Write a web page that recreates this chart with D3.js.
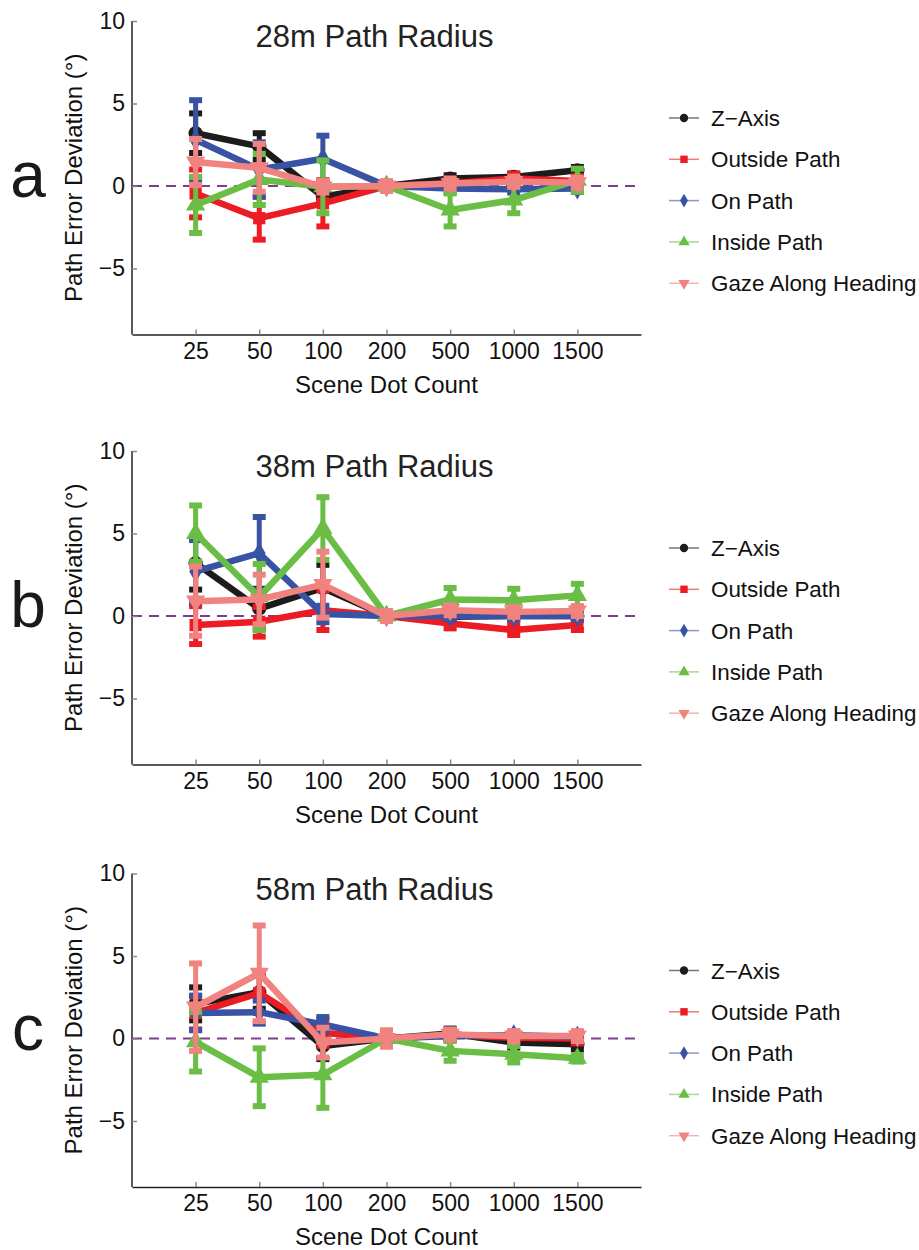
<!DOCTYPE html>
<html>
<head>
<meta charset="utf-8">
<script src="https://cdn.jsdelivr.net/npm/d3@7"></script>
<style>
  body { margin: 0; background: #fff; }
  svg { font-family: "Liberation Sans", Arial, Helvetica, sans-serif; }
</style>
</head>
<body>
<div id="chart"></div>
<script>
// ─── data ───────────────────────────────────────────────────────────
const dotCounts   = ['25', '50', '100', '200', '500', '1000', '1500'];
const seriesNames = ['Z\u2212Axis', 'Outside Path', 'On Path', 'Inside Path', 'Gaze Along Heading'];
const panelTitles = ['28m Path Radius', '38m Path Radius', '58m Path Radius'];
const panelLetters = ['a', 'b', 'c'];
const yTickValues = [10, 5, 0, -5];

// series rows in the order of seriesNames
const mean28 = [
  [3.2, 2.4, -0.65, 0, 0.45, 0.55, 0.95],
  [-0.45, -1.95, -1.05, 0, 0.15, 0.45, 0.3],
  [2.8, 1.0, 1.65, 0, -0.15, -0.2, -0.15],
  [-1.15, 0.4, -0.05, 0, -1.45, -0.85, 0.35],
  [1.45, 1.1, -0.05, 0, 0.15, 0.27, 0.2]
];
const err28 = [
  [1.2, 0.8, 0.3, 0.2, 0.2, 0.2, 0.2],
  [1.45, 1.3, 1.4, 0.2, 0.3, 0.3, 0.3],
  [2.4, 1.65, 1.4, 0.2, 0.2, 0.2, 0.2],
  [1.7, 1.55, 1.6, 0.2, 1.0, 0.8, 0.7],
  [1.4, 1.45, 0.35, 0.3, 0.3, 0.3, 0.3]
];

const mean38 = [
  [3.2, 0.45, 1.7, 0, -0.05, 0, 0],
  [-0.55, -0.35, 0.35, 0, -0.45, -0.85, -0.55],
  [2.7, 3.8, 0.12, 0, 0, 0, 0],
  [5.0, 1.15, 5.3, 0, 1.0, 0.95, 1.25],
  [0.9, 1.0, 1.9, 0, 0.35, 0.25, 0.3]
];
const err38 = [
  [1.6, 1.2, 1.4, 0.2, 0.2, 0.2, 0.2],
  [1.15, 0.9, 1.2, 0.2, 0.3, 0.3, 0.3],
  [1.9, 2.2, 0.5, 0.2, 0.2, 0.2, 0.2],
  [1.7, 2.0, 1.9, 0.2, 0.7, 0.7, 0.7],
  [2.1, 1.5, 2.0, 0.3, 0.3, 0.3, 0.3]
];

const mean58 = [
  [2.1, 2.8, -0.45, 0, 0.3, -0.25, -0.35],
  [1.55, 2.75, 0.35, 0, 0.2, 0.05, 0],
  [1.55, 1.6, 0.85, 0, 0.15, 0.2, 0.1],
  [-0.2, -2.35, -2.2, 0, -0.75, -0.95, -1.2],
  [1.9, 3.95, -0.25, 0, 0.25, 0.15, 0.15]
];
const err58 = [
  [1.0, 1.0, 0.8, 0.3, 0.3, 0.3, 0.3],
  [1.0, 1.2, 0.8, 0.3, 0.3, 0.3, 0.3],
  [1.05, 0.7, 0.45, 0.2, 0.2, 0.2, 0.2],
  [1.8, 1.75, 2.0, 0.3, 0.6, 0.5, 0.2],
  [2.65, 2.9, 0.9, 0.5, 0.3, 0.3, 0.3]
];

const panelMeans = [mean28, mean38, mean58];
const panelErrs  = [err28, err38, err58];

// ─── style ──────────────────────────────────────────────────────────
const colors  = ['#1c1c1c', '#ec1c24', '#3953a4', '#6abd45', '#f0827f'];
const symbols = [d3.symbolCircle, d3.symbolSquare, d3.symbolDiamond, d3.symbolTriangle, d3.symbolTriangle];
const symRot  = [0, 0, 0, 0, 180];
const symSize = [160, 150, 140, 160, 160];

const W = 919, H = 1250;
const left = 132, right = 641;
const plotTops = [21, 451, 873.5];
const plotH = 313.5;

const svg = d3.select('#chart').append('svg')
  .attr('width', W).attr('height', H)
  .attr('viewBox', [0, 0, W, H]);

const x = d3.scalePoint().domain(dotCounts).range([left, right]).padding(1);

plotTops.forEach((top, p) => {
  const g = svg.append('g');
  const y = d3.scaleLinear().domain([-9, 10]).range([top + plotH, top]);
  const means = panelMeans[p], errs = panelErrs[p];

  /* zero reference line */
  g.append('line')
    .attr('x1', left).attr('x2', right)
    .attr('y1', y(0)).attr('y2', y(0))
    .attr('stroke', '#7d3c8e').attr('stroke-width', 2.2)
    .attr('stroke-dasharray', '10,7');

  /* series */
  means.forEach((vals, s) => {
    const pts = vals.map((v, i) => ({ k: dotCounts[i], v, e: errs[s][i] }));
    const sg = g.append('g');

    sg.append('path')
      .datum(pts)
      .attr('fill', 'none')
      .attr('stroke', colors[s])
      .attr('stroke-width', 6.5)
      .attr('stroke-linejoin', 'round')
      .attr('d', d3.line().x(d => x(d.k)).y(d => y(d.v)));

    const eb = sg.selectAll('g.err').data(pts).join('g').attr('class', 'err')
      .attr('stroke', colors[s]);
    eb.append('line')
      .attr('stroke-width', 5)
      .attr('x1', d => x(d.k)).attr('x2', d => x(d.k))
      .attr('y1', d => y(d.v - d.e)).attr('y2', d => y(d.v + d.e));
    eb.append('line')
      .attr('stroke-width', 6)
      .attr('x1', d => x(d.k) - 6.5).attr('x2', d => x(d.k) + 6.5)
      .attr('y1', d => y(d.v + d.e)).attr('y2', d => y(d.v + d.e));
    eb.append('line')
      .attr('stroke-width', 6)
      .attr('x1', d => x(d.k) - 6.5).attr('x2', d => x(d.k) + 6.5)
      .attr('y1', d => y(d.v - d.e)).attr('y2', d => y(d.v - d.e));

    sg.selectAll('path.mk').data(pts).join('path').attr('class', 'mk')
      .attr('d', d3.symbol().type(symbols[s]).size(symSize[s]))
      .attr('transform', d => `translate(${x(d.k)},${y(d.v)}) rotate(${symRot[s]})`)
      .attr('fill', colors[s]);
  });

  /* axes */
  const yAxis = g.append('g')
    .attr('transform', `translate(${left},0)`)
    .call(d3.axisLeft(y).tickValues(yTickValues).tickSizeInner(-5).tickSizeOuter(0).tickPadding(7));
  const xAxis = g.append('g')
    .attr('transform', `translate(0,${top + plotH})`)
    .call(d3.axisBottom(x).tickSizeInner(-5).tickSizeOuter(0).tickPadding(8));

  // y axis line only spans from 10 down to the bottom
  yAxis.select('.domain').attr('d', `M0,${y(10)}V${top + plotH}`);
  [yAxis, xAxis].forEach(a => {
    a.select('.domain').attr('stroke', '#222').attr('stroke-width', 1.5);
    a.selectAll('.tick line').attr('stroke', '#888').attr('stroke-width', 1.5);
    a.selectAll('.tick text').attr('fill', '#111').style('font-size', '23px')
      .style('font-family', '"Liberation Sans", Arial, sans-serif');
  });

  /* labels */
  g.append('text')
    .attr('x', 374.5).attr('y', top + 26)
    .attr('text-anchor', 'middle')
    .attr('fill', '#222')
    .style('font-size', '31px')
    .text(panelTitles[p]);

  g.append('text')
    .attr('x', (left + right) / 2).attr('y', top + plotH + 58)
    .attr('text-anchor', 'middle')
    .attr('fill', '#111')
    .style('font-size', '24px')
    .text('Scene Dot Count');

  g.append('text')
    .attr('transform', `translate(82,${y(0.5)}) rotate(-90)`)
    .attr('text-anchor', 'middle')
    .attr('fill', '#111')
    .style('font-size', '24px')
    .text('Path Error Deviation (\u00b0)');

  g.append('text')
    .attr('x', 28).attr('y', y(0) + 11)
    .attr('text-anchor', 'middle')
    .attr('fill', '#1a1a1a')
    .style('font-size', '64px')
    .text(panelLetters[p]);

  /* legend */
  const lg = g.append('g').attr('transform', `translate(669,${y(0) - 68})`);
  seriesNames.forEach((name, s) => {
    const row = lg.append('g').attr('transform', `translate(0,${s * 41.3})`);
    row.append('line')
      .attr('x1', 0).attr('x2', 30)
      .attr('stroke', colors[s]).attr('stroke-opacity', 0.6).attr('stroke-width', 1.5);
    row.append('path')
      .attr('d', d3.symbol().type(symbols[s]).size(55))
      .attr('transform', `translate(15,0) rotate(${symRot[s]})`)
      .attr('fill', colors[s]);
    row.append('text')
      .attr('x', 42).attr('dy', '0.36em')
      .attr('fill', '#111')
      .style('font-size', '22.4px')
      .text(name);
  });
});
</script>
</body>
</html>
